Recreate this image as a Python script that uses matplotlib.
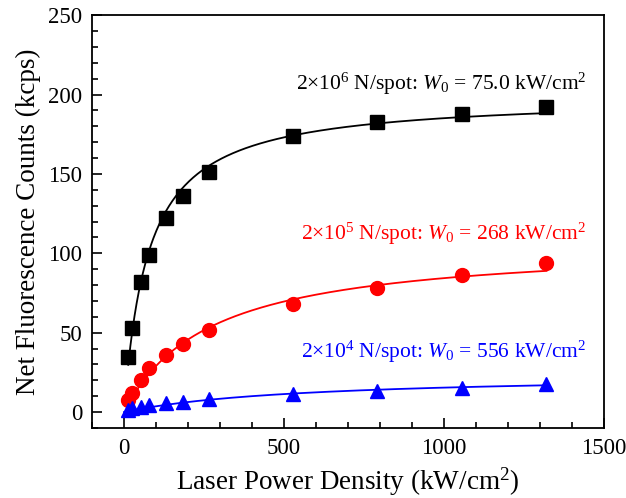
import numpy as np
import matplotlib
matplotlib.use("Agg")
import matplotlib.pyplot as plt
from matplotlib.ticker import MultipleLocator

plt.rcParams['font.family'] = ['Liberation Serif', 'DejaVu Serif']
plt.rcParams['mathtext.fontset'] = 'custom'
plt.rcParams['mathtext.rm'] = 'Liberation Serif'
plt.rcParams['mathtext.it'] = 'Liberation Serif:italic'

# laser power density (kW/cm^2)
power = [13.2, 26.4, 52.8, 79.2, 132, 185, 264, 528, 792, 1056, 1320]

# net fluorescence counts (kcps)
counts_1e6 = [35, 53, 82, 99, 122, 136, 151, 174, 183, 188, 192]
counts_1e5 = [7.5, 12, 20, 28, 36, 43, 52, 68, 78, 86.5, 94]
counts_1e4 = [1.5, 2.5, 3.5, 4.5, 5.5, 6.5, 8.0, 11.5, 13.5, 15.3, 17.5]

# saturation fit parameters: I = A * W / (W + W0)
w0_values = [75.0, 268, 556]
amp_values = [199, 107, 24]
labels = [r"2$\times$10$^6$ N/spot: $W_0$ = 75.0 kW/cm$^2$",
          r"2$\times$10$^5$ N/spot: $W_0$ = 268 kW/cm$^2$",
          r"2$\times$10$^4$ N/spot: $W_0$ = 556 kW/cm$^2$"]
colors = ['black', '#ff0000', '#0000ff']
markers = ['s', 'o', '^']
sizes = [9.5, 10, 10.5]
label_y = [207, 112, 38]

fig = plt.figure(figsize=(6.26, 4.98), dpi=100)
ax = fig.add_axes([0.147, 0.1406, 0.818, 0.829])

for i, counts in enumerate([counts_1e6, counts_1e5, counts_1e4]):
    x0 = 0 if i == 2 else power[0]
    xf = np.linspace(x0, power[-1], 400)
    yf = amp_values[i] * xf / (xf + w0_values[i])
    ax.plot(xf, yf, color=colors[i], lw=1.3, zorder=2)
    ax.plot(power, counts, linestyle='none', marker=markers[i], color=colors[i],
            markersize=sizes[i], zorder=3)
    ax.text(1444, label_y[i], labels[i], color=colors[i], fontsize=15.5,
            ha='right', va='center')

ax.set_xlim(-100, 1500)
ax.set_ylim(-10, 250)
ax.xaxis.set_major_locator(MultipleLocator(500))
ax.xaxis.set_minor_locator(MultipleLocator(100))
ax.yaxis.set_major_locator(MultipleLocator(50))
ax.yaxis.set_minor_locator(MultipleLocator(10))
ax.tick_params(which='both', direction='in', top=False, right=False, width=1.2)
ax.tick_params(which='major', length=7, labelsize=16.5, pad=7)
ax.tick_params(which='minor', length=4)
for s in ax.spines.values():
    s.set_linewidth(1.3)

ax.set_xlabel(r"Laser Power Density (kW/cm$^2$)", fontsize=19.5, labelpad=5)
ax.set_ylabel("Net Fluorescence Counts (kcps)", fontsize=19.5, labelpad=5)

fig.savefig("out.png", dpi=100)
